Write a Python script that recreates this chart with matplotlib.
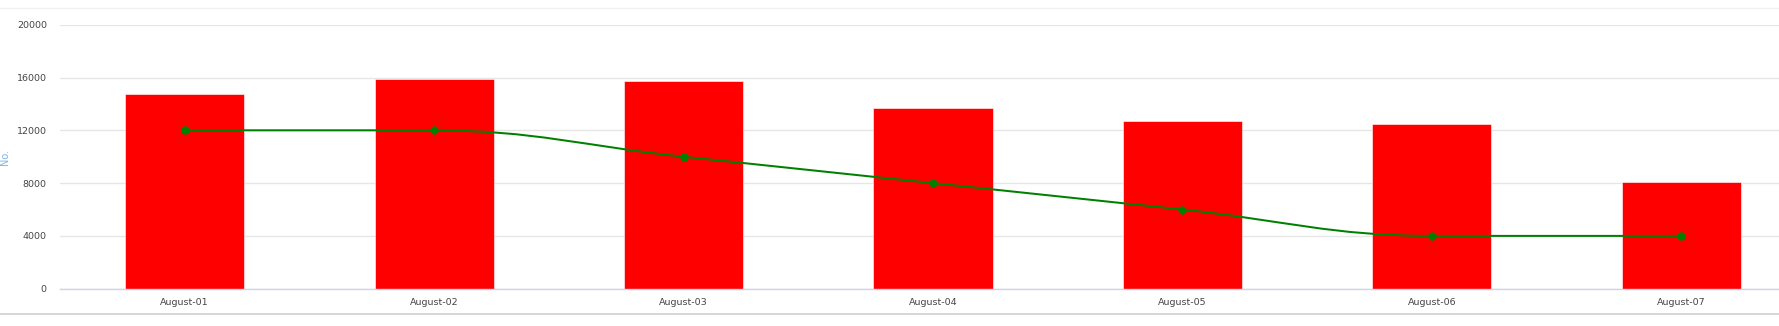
import numpy as np
import matplotlib
matplotlib.use('Agg')
import matplotlib.pyplot as plt
from matplotlib.path import Path
from matplotlib.patches import PathPatch
from matplotlib.lines import Line2D

# ============================================================================
# DATA
# ============================================================================

categories = ['August-01', 'August-02', 'August-03', 'August-04',
              'August-05', 'August-06', 'August-07']
bar_values = [14750, 15920, 15720, 13720, 12700, 12500, 8100]
line_values = [12000, 12000, 10000, 8000, 6000, 4000, 4000]
y_ticks = [0, 4000, 8000, 12000, 16000, 20000]


# Highcharts-style spline (smoothing 1.5 with overshoot clamp)
def spline_path(xs, ys, smoothing=1.5):
    n = len(xs)
    denom = smoothing + 1
    left = [None] * n
    right = [None] * n
    for i in range(1, n - 1):
        px, py = xs[i], ys[i]
        lx, ly = xs[i - 1], ys[i - 1]
        nx, ny = xs[i + 1], ys[i + 1]
        lcx = (smoothing * px + lx) / denom
        lcy = (smoothing * py + ly) / denom
        rcx = (smoothing * px + nx) / denom
        rcy = (smoothing * py + ny) / denom
        corr = 0
        if rcx != lcx:
            corr = ((rcy - lcy) * (rcx - px)) / (rcx - lcx) + py - rcy
        lcy += corr
        rcy += corr
        if lcy > ly and lcy > py:
            lcy = max(ly, py)
            rcy = 2 * py - lcy
        elif lcy < ly and lcy < py:
            lcy = min(ly, py)
            rcy = 2 * py - lcy
        if rcy > ny and rcy > py:
            rcy = max(ny, py)
            lcy = 2 * py - rcy
        elif rcy < ny and rcy < py:
            rcy = min(ny, py)
            lcy = 2 * py - rcy
        left[i] = (lcx, lcy)
        right[i] = (rcx, rcy)

    verts = [(xs[0], ys[0])]
    codes = [Path.MOVETO]
    for i in range(1, n):
        c1 = right[i - 1] if right[i - 1] is not None else (xs[i - 1], ys[i - 1])
        c2 = left[i] if left[i] is not None else (xs[i], ys[i])
        verts += [c1, c2, (xs[i], ys[i])]
        codes += [Path.CURVE4] * 3
    return Path(verts, codes)


# ============================================================================
# PLOT
# ============================================================================

W, H = 1779, 326
fig = plt.figure(figsize=(W / 100, H / 100), dpi=100)
fig.patch.set_facecolor('white')

# plot area in pixels: left 60, bottom of 0 at y=288.7, top 20000 at y=24.7
ax = fig.add_axes([60 / W, (H - 288.7) / H, 1746 / W, 264 / H])
ax.set_xlim(-0.5, len(categories) - 0.5)
ax.set_ylim(0, 20000)

x = np.arange(len(categories))

ax.set_yticks(y_ticks)
ax.yaxis.grid(True, color='#e6e6e6', linewidth=1.0)
ax.set_axisbelow(True)

ax.bar(x, bar_values, width=0.478, color='#ff0000',
       edgecolor='white', linewidth=0.4, zorder=2)

path = spline_path(list(x), line_values)
ax.add_patch(PathPatch(path, facecolor='none', edgecolor='#008000',
                       linewidth=1.45, zorder=3, clip_on=False))
ax.plot(x, line_values, linestyle='none', marker='o', markersize=5,
        color='#008000', zorder=4)

for side in ['top', 'right', 'left']:
    ax.spines[side].set_visible(False)
ax.spines['bottom'].set_color('#ccd6eb')
ax.spines['bottom'].set_linewidth(1.0)

ax.set_xticks(x)
ax.set_xticklabels(categories)
ax.tick_params(axis='x', length=0, pad=6.7, labelsize=6.8, labelcolor='#444444')
ax.tick_params(axis='y', length=0, pad=9.5, labelsize=6.8, labelcolor='#444444')
ax.set_yticklabels([str(v) for v in y_ticks])

fig.text(5 / W, 1 - 156.7 / H, 'No.', rotation=90, ha='center', va='center',
         fontsize=7, color='#7cb5ec')

# container border lines
fig.add_artist(Line2D([0, 1], [1 - 8 / H, 1 - 8 / H], color='#f0f0f0',
                      linewidth=1.0, transform=fig.transFigure))
fig.add_artist(Line2D([0, 1], [1 - 313.5 / H, 1 - 313.5 / H], color='#d0d0d0',
                      linewidth=1.2, transform=fig.transFigure))

plt.savefig('out.png', dpi=100)
plt.close()
